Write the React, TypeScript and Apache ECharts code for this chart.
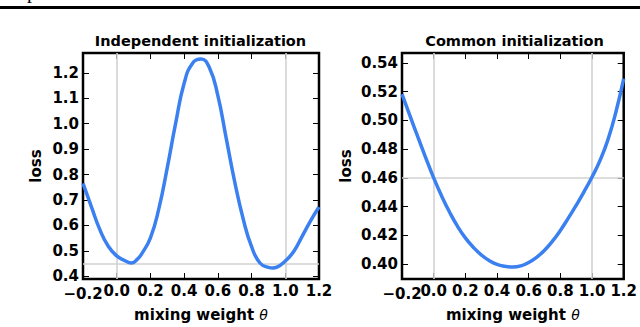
import React, { useEffect, useRef } from "react";
import * as echarts from "echarts";

// ---- data ----
const thetaLeft = [-0.2, -0.15, -0.1, -0.05, 0, 0.05, 0.085, 0.12, 0.15, 0.2, 0.25, 0.3, 0.35, 0.4, 0.45, 0.5, 0.55, 0.6, 0.65, 0.7, 0.75, 0.8, 0.85, 0.9, 0.925, 0.95, 1.0, 1.05, 1.1, 1.15, 1.2];
const lossLeft = [0.765, 0.673, 0.583, 0.518, 0.48, 0.461, 0.452, 0.465, 0.49, 0.551, 0.666, 0.827, 1.003, 1.159, 1.238, 1.254, 1.22, 1.11, 0.941, 0.771, 0.626, 0.516, 0.452, 0.4345, 0.432, 0.4355, 0.46, 0.497, 0.557, 0.618, 0.672];

const thetaRight = [-0.2, -0.15, -0.1, -0.05, 0, 0.05, 0.1, 0.15, 0.2, 0.25, 0.3, 0.35, 0.4, 0.45, 0.5, 0.55, 0.6, 0.65, 0.7, 0.75, 0.8, 0.85, 0.9, 0.95, 1.0, 1.05, 1.1, 1.15, 1.2];
const lossRight = [0.5183, 0.5033, 0.4885, 0.474, 0.46, 0.4475, 0.4363, 0.4265, 0.4183, 0.4118, 0.4065, 0.4025, 0.3998, 0.3985, 0.398, 0.3988, 0.4012, 0.4048, 0.4097, 0.416, 0.4235, 0.432, 0.441, 0.4505, 0.4607, 0.472, 0.4865, 0.5055, 0.529];

const xTicks = [-0.2, 0, 0.2, 0.4, 0.6, 0.8, 1.0, 1.2];
const yTicksLeft = [0.4, 0.5, 0.6, 0.7, 0.8, 0.9, 1.0, 1.1, 1.2];
const yTicksRight = [0.4, 0.42, 0.44, 0.46, 0.48, 0.5, 0.52, 0.54];

const refX = [0, 1];
const refYLeft = 0.454;
const refYRight = 0.46;

const titles = ["Independent initialization", "Common initialization"];
const xName = "mixing weight ";
const yName = "loss";

const FONT = "DejaVu Sans";
const BLUE = "#3b80f0";
const GRAY = "#d2d2d2";

export default function App() {
  const ref = useRef<HTMLDivElement>(null);
  useEffect(() => {
    if (!ref.current) return;
    const chart = echarts.init(ref.current, null, { renderer: "svg" });

    const grids = [
      { left: 83, top: 53, width: 236, height: 229 },
      { left: 402, top: 53, width: 225, height: 229 },
    ];
    const yRanges = [
      { min: 0.389, max: 1.278, ticks: yTicksLeft, dec: 1 },
      { min: 0.3897, max: 0.5469, ticks: yTicksRight, dec: 2 },
    ];
    const xMin = xTicks[0];
    const xMax = xTicks[xTicks.length - 1];
    const labelStyle = { color: "#000", fontFamily: FONT, fontWeight: "bold" as const, fontSize: 15 };
    const fmtX = (v: number) => (v < -1e-9 ? "\u2212" : "") + Math.abs(v).toFixed(1);
    const tick = { show: true, inside: true, length: 6, lineStyle: { color: "#000", width: 1 } };

    const xAxes: any[] = [];
    const yAxes: any[] = [];
    grids.forEach((_, i) => {
      xAxes.push({
        type: "value",
        gridIndex: i,
        position: "bottom",
        min: xMin,
        max: xMax,
        interval: 0.2,
        axisLine: { show: false, onZero: false },
        axisTick: { ...tick, customValues: xTicks },
        splitLine: { show: false },
        axisLabel: { ...labelStyle, margin: 4, formatter: fmtX, hideOverlap: false, customValues: xTicks.slice(1) },
        name: `{a|${xName}}{b|θ}`,
        nameLocation: "middle",
        nameGap: 28,
        nameTextStyle: {
          rich: {
            a: { ...labelStyle },
            b: { color: "#000", fontFamily: FONT, fontStyle: "italic", fontWeight: "normal", fontSize: 14 },
          },
        },
      });
      xAxes.push({
        type: "value",
        gridIndex: i,
        position: "top",
        min: xMin,
        max: xMax,
        interval: 0.2,
        axisLine: { show: false, onZero: false },
        axisTick: { ...tick, customValues: xTicks },
        axisLabel: { show: false },
        splitLine: { show: false },
      });
      const yr = yRanges[i];
      yAxes.push({
        type: "value",
        gridIndex: i,
        position: "left",
        min: yr.min,
        max: yr.max,
        axisLine: { show: false, onZero: false },
        axisTick: { ...tick, customValues: yr.ticks },
        splitLine: { show: false },
        axisLabel: { ...labelStyle, margin: 4, formatter: (v: number) => v.toFixed(yr.dec), customValues: yr.ticks },
        name: yName,
        nameLocation: "middle",
        nameRotate: 90,
        nameGap: i === 0 ? 40 : 49,
        nameTextStyle: { ...labelStyle },
      });
      yAxes.push({
        type: "value",
        gridIndex: i,
        position: "right",
        min: yr.min,
        max: yr.max,
        axisLine: { show: false, onZero: false },
        axisTick: { ...tick, customValues: yr.ticks },
        axisLabel: { show: false },
        splitLine: { show: false },
      });
    });
    // overlay grids carrying only the first (minimum) x tick label, so it may overlap "0.0" as in the original
    grids.forEach((_, i) => {
      xAxes.push({
        type: "value",
        gridIndex: 2 + i,
        position: "bottom",
        min: xMin,
        max: xMax,
        interval: 0.2,
        axisLine: { show: false, onZero: false },
        axisTick: { show: false },
        splitLine: { show: false },
        axisLabel: { ...labelStyle, margin: 4, formatter: fmtX, customValues: [xMin] },
      });
      yAxes.push({
        type: "value",
        gridIndex: 2 + i,
        show: false,
        min: yRanges[i].min,
        max: yRanges[i].max,
      });
    });

    const mk = (yRef: number) => ({
      silent: true,
      symbol: ["none", "none"],
      label: { show: false },
      lineStyle: { color: GRAY, width: 1.6, type: "solid" },
      emphasis: { disabled: true },
      data: [...refX.map((x) => ({ xAxis: x })), { yAxis: yRef }],
    });

    const option: any = {
      animation: false,
      backgroundColor: "#fff",
      grid: [
        ...grids.map((g) => ({ ...g, show: true, borderColor: "#000", borderWidth: 2.5, backgroundColor: "transparent", containLabel: false })),
        ...grids.map((g) => ({ ...g, show: false, containLabel: false })),
      ],
      xAxis: xAxes,
      yAxis: yAxes,
      series: [
        {
          type: "line",
          xAxisIndex: 0,
          yAxisIndex: 0,
          data: thetaLeft.map((t, k) => [t, lossLeft[k]]),
          smooth: 0.5,
          showSymbol: false,
          z: 10,
          lineStyle: { color: BLUE, width: 3.5 },
          markLine: mk(refYLeft),
        },
        {
          type: "line",
          xAxisIndex: 2,
          yAxisIndex: 2,
          data: thetaRight.map((t, k) => [t, lossRight[k]]),
          smooth: 0.5,
          showSymbol: false,
          z: 10,
          lineStyle: { color: BLUE, width: 3.5 },
          markLine: mk(refYRight),
        },
      ],
      graphic: [
        { type: "rect", left: 0, top: 6, shape: { width: 640, height: 3 }, style: { fill: "#000" } },
        {
          type: "text",
          x: 32,
          y: -9,
          style: { text: "p", fill: "#000", font: `20px "Liberation Serif"`, textAlign: "center", textVerticalAlign: "middle" },
        },
        {
          type: "text",
          x: 200.5,
          y: 41,
          style: { text: titles[0], fill: "#000", font: `bold 14.5px "${FONT}"`, textAlign: "center", textVerticalAlign: "middle" },
        },
        {
          type: "text",
          x: 514.5,
          y: 41,
          style: { text: titles[1], fill: "#000", font: `bold 14.5px "${FONT}"`, textAlign: "center", textVerticalAlign: "middle" },
        },
      ],
    };
    chart.setOption(option);
    return () => chart.dispose();
  }, []);
  return <div ref={ref} style={{ position: "absolute", left: 0, top: 0, width: 640, height: 327, background: "#fff" }} />;
}
